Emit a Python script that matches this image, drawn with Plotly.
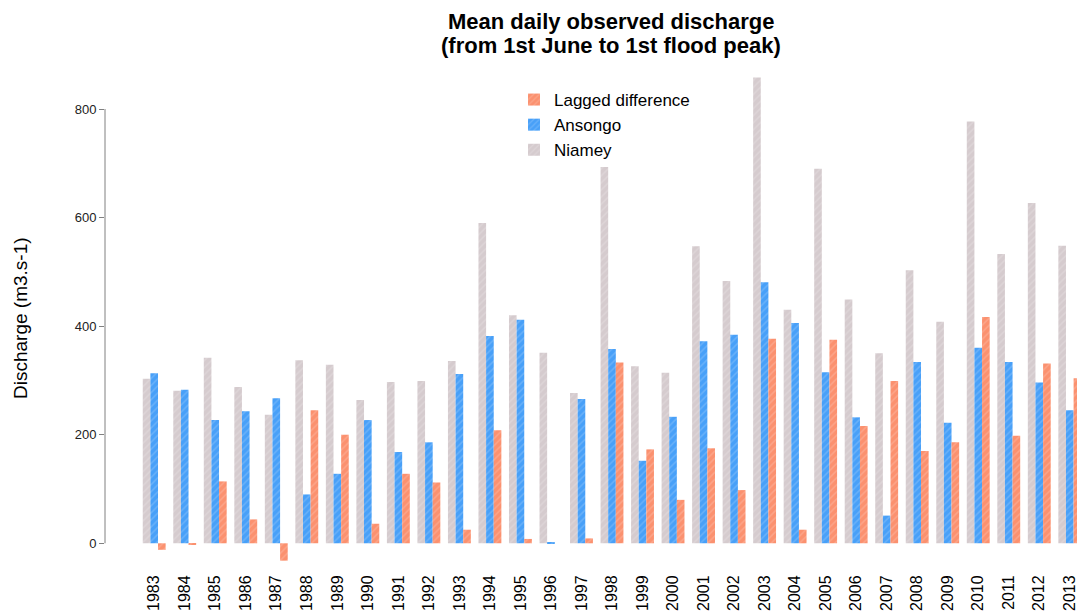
import plotly.graph_objects as go

years = ["1983", "1984", "1985", "1986", "1987", "1988", "1989", "1990", "1991", "1992",
         "1993", "1994", "1995", "1996", "1997", "1998", "1999", "2000", "2001", "2002",
         "2003", "2004", "2005", "2006", "2007", "2008", "2009", "2010", "2011", "2012", "2013"]
niamey = [303, 281, 342, 288, 237, 337, 329, 264, 297, 299, 336, 590, 420, 351, 277, 693,
          326, 314, 547, 483, 858, 430, 690, 449, 350, 503, 408, 777, 533, 627, 548]
ansongo = [313, 283, 227, 243, 267, 90, 128, 227, 168, 186, 312, 382, 412, 1, 266, 358,
           152, 233, 372, 384, 481, 406, 315, 232, 51, 334, 222, 360, 334, 296, 245]
lagged = [-12, -2, 114, 44, -32, 245, 200, 36, 128, 112, 25, 208, 8, 0, 9, 333,
          173, 80, 175, 98, 377, 25, 375, 216, 299, 170, 186, 417, 198, 331, 304]
yticks = [0, 200, 400, 600, 800]
title_lines = ["Mean daily observed discharge", "(from 1st June to 1st flood peak)"]

FONT = "Liberation Sans, Arial, Helvetica, sans-serif"
W, H = 1077, 613
ML, MR, MT, MB = 105, 0, 71, 48
plot_w = W - ML - MR
plot_h = H - MT - MB


def px_x(px):
    return (px - ML) / plot_w


def px_y(py):
    return (H - MB - py) / plot_h


def hatch():
    return dict(shape="/", fillmode="overlay", fgcolor="white", fgopacity=0.18,
                size=5, solidity=0.3)


fig = go.Figure()
fig.add_trace(go.Bar(x=years, y=niamey, name="Niamey",
                     marker=dict(color="#D5CBCE", line=dict(width=0), pattern=hatch())))
fig.add_trace(go.Bar(x=years, y=ansongo, name="Ansongo",
                     marker=dict(color="#48A0F8", line=dict(width=0), pattern=hatch())))
fig.add_trace(go.Bar(x=years, y=lagged, name="Lagged difference",
                     marker=dict(color="#FB916F", line=dict(width=0), pattern=hatch())))

fig.update_layout(
    width=W, height=H,
    margin=dict(l=ML, r=MR, t=MT, b=MB, autoexpand=False),
    paper_bgcolor="white", plot_bgcolor="white",
    barmode="group", bargap=0.25, bargroupgap=0,
    font=dict(family=FONT, color="black"),
    legend=dict(traceorder="reversed", x=px_x(514), xanchor="left",
                y=px_y(82), yanchor="top",
                font=dict(size=17, family=FONT, color="black"),
                bgcolor="rgba(0,0,0,0)", itemclick=False, tracegroupgap=0),
    xaxis=dict(type="category", range=[-1.612, 30.236], tickangle=-90,
               tickfont=dict(size=16, family=FONT, color="black"),
               showgrid=False, zeroline=False, showline=False,
               ticks="outside", ticklen=3, tickcolor="rgba(0,0,0,0)",
               automargin=False),
    yaxis=dict(range=[-40, 870], tickvals=yticks, ticks="outside", ticklen=5,
               tickcolor="#808080", tickwidth=1,
               tickfont=dict(size=13, family=FONT, color="#222222"),
               showgrid=False, zeroline=False, showline=False, automargin=False),
    showlegend=True,
)

# y axis line spanning only the tick range (R style)
fig.add_shape(type="line", xref="paper", x0=0, x1=0, yref="y", y0=yticks[0], y1=yticks[-1],
              line=dict(color="#808080", width=1))

# title (two lines)
for text, cy in zip(title_lines, [21, 46]):
    fig.add_annotation(text="<b>" + text + "</b>", xref="paper", yref="paper",
                       x=px_x(611), y=px_y(cy), xanchor="center", yanchor="middle",
                       showarrow=False, font=dict(size=22, family=FONT, color="black"))

# y axis title
fig.add_annotation(text="Discharge (m3.s-1)", xref="paper", yref="paper",
                   x=px_x(20), y=px_y(318),
                   xanchor="center", yanchor="middle", textangle=-90, showarrow=False,
                   font=dict(size=19, family=FONT, color="black"))

fig.write_html("out.html", config={"displayModeBar": False},
               post_script="document.body.style.margin='0';document.body.style.overflow='hidden';")
